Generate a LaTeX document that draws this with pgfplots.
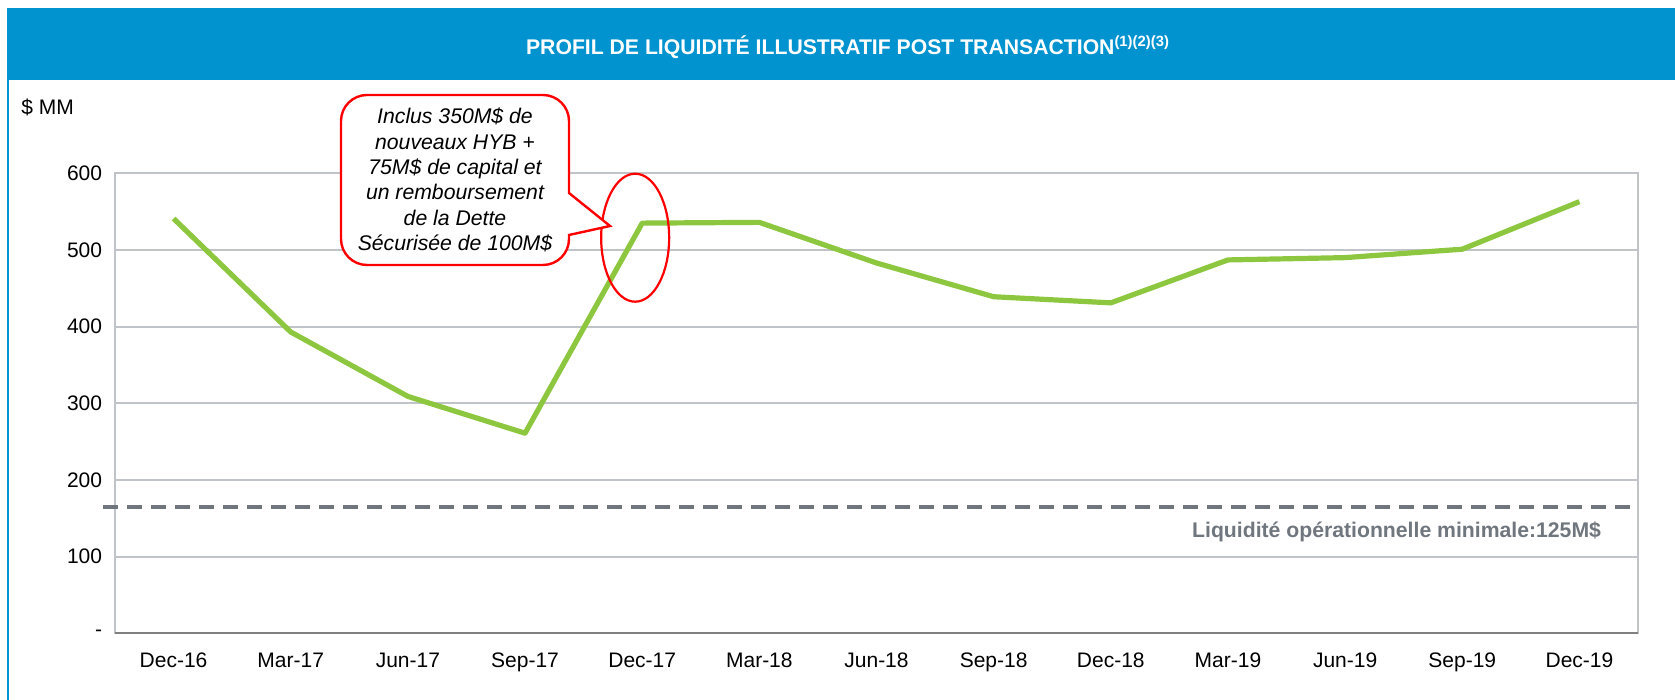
\documentclass[border=0pt]{standalone}
\usepackage{pgfplots}
\pgfplotsset{compat=1.18}
\usepackage{fontspec}
\setmainfont{Liberation Sans}
\definecolor{barBlue}{RGB}{0,147,208}
\definecolor{lineGreen}{RGB}{141,198,63}
\definecolor{dashGray}{RGB}{112,118,126}
\definecolor{gridGray}{RGB}{192,196,200}
\definecolor{axisDark}{RGB}{128,128,128}
\definecolor{calloutRed}{RGB}{255,0,0}

\begin{document}
\begin{tikzpicture}
\useasboundingbox (0,0) rectangle (837.5pt,350pt);
% title band and frame
\fill[barBlue] (4pt,310pt) rectangle (837.5pt,345.75pt);
\draw[barBlue, line width=1pt] (4pt,0) -- (4pt,345.75pt);
\node[anchor=base, text=white, font=\fontsize{10.6}{12}\selectfont\bfseries]
  at (424pt,322.7pt) {PROFIL DE LIQUIDITÉ ILLUSTRATIF POST TRANSACTION\textsuperscript{(1)(2)(3)}};
\node[anchor=west, inner sep=0pt, font=\fontsize{10.5}{12}\selectfont] at (10.5pt,296.5pt) {\$ MM};

\begin{axis}[
  at={(57.5pt,33.35pt)}, anchor=south west,
  scale only axis, width=761.5pt, height=230pt,
  xmin=-0.5, xmax=12.5, ymin=0, ymax=600,
  xtick={0,...,12},
  xticklabels={Dec-16,Mar-17,Jun-17,Sep-17,Dec-17,Mar-18,Jun-18,Sep-18,Dec-18,Mar-19,Jun-19,Sep-19,Dec-19},
  ytick={0,100,...,600},
  yticklabels={-,100,200,300,400,500,600},
  ymajorgrids, grid style={gridGray, line width=0.9pt},
  axis line style={gridGray, line width=0.9pt},
  major tick length=0pt,
  tick label style={font=\fontsize{10.5}{12}\selectfont, inner sep=0pt},
  yticklabel style={anchor=east, xshift=-6.25pt},
  xticklabel style={anchor=north, yshift=-9.75pt},
  clip=false,
]
\addplot[dashGray, line width=2pt, dash pattern=on 7.5pt off 4.5pt]
  coordinates {(-0.6,165)(12.43,165)};
\addplot[lineGreen, line width=2.6pt, line join=round] coordinates {
  (0,541)(1,393)(2,309)(3,261)(4,535)(5,536)(6,483)
  (7,439)(8,431)(9,487)(10,490)(11,501)(12,563)
};
\draw[axisDark, line width=1pt] (rel axis cs:0,0) -- (rel axis cs:1,0);
\draw[calloutRed, line width=1.1pt] (axis cs:3.94,516) ellipse [x radius=17pt, y radius=32pt];
\end{axis}

\node[anchor=base east, text=dashGray, font=\fontsize{10.6}{12}\selectfont\bfseries]
  at (804pt,81.2pt) {Liquidité opérationnelle minimale:125M\$};

% callout
\draw[calloutRed, line width=1.2pt, fill=white]
  (284.5pt,253.5pt) [rounded corners=13pt] -- (284.5pt,302.5pt) -- (170.5pt,302.5pt)
  -- (170.5pt,217.5pt) -- (284.5pt,217.5pt) [sharp corners] -- (284.5pt,232.5pt)
  -- (305pt,237pt) -- cycle;
\node[align=center, font=\fontsize{10.6}{12.65}\selectfont\itshape] at (227.5pt,260pt)
  {Inclus 350M\$ de\\nouveaux HYB +\\75M\$ de capital et\\un remboursement\\de la Dette\\Sécurisée de 100M\$};
\end{tikzpicture}
\end{document}
